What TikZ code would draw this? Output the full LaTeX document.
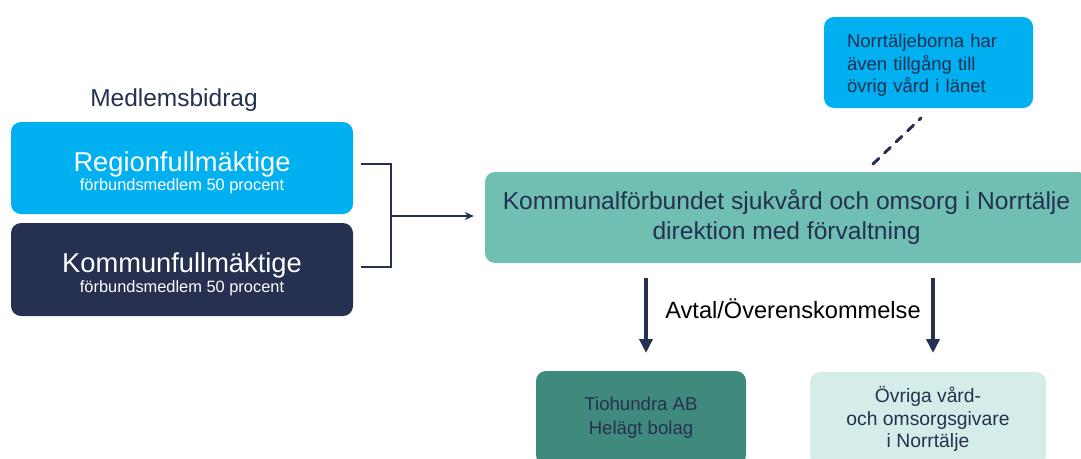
\documentclass[tikz,border=0pt]{standalone}
\usepackage{fontspec}
\setmainfont{Liberation Sans}
\usetikzlibrary{positioning,calc,arrows.meta}

\definecolor{lblue}{HTML}{00B0F0}
\definecolor{navy}{HTML}{263050}
\definecolor{teal}{HTML}{70BFB3}
\definecolor{dteal}{HTML}{3F8A7C}
\definecolor{pteal}{HTML}{D4EDE8}

\tikzset{
  box/.style={rounded corners=10pt, inner sep=0pt, align=center},
  link/.style={draw=navy, line width=1.8pt},
  downarrow/.style={draw=navy, line width=3.5pt, -{Triangle[width=13pt,length=14pt]}}
}

\begin{document}
\begin{tikzpicture}[x=1pt,y=-1pt]
    \useasboundingbox (0,0) rectangle (1081,458);
    \clip (0,0) rectangle (1081,458);

    % Members
    \node[text=navy, font=\fontsize{24.5}{28}\selectfont] (bidrag) at (174,100) {Medlemsbidrag};
    \node[box, fill=lblue, text=white, minimum width=342pt, minimum height=92pt] (region) at (182,168)
        {{\fontsize{27.3}{30}\selectfont\rule{0pt}{29pt}Regionfullmäktige}\\[1pt]{\fontsize{16.4}{19}\selectfont förbundsmedlem 50 procent}};
    \node[box, fill=navy, text=white, minimum width=342pt, minimum height=93pt] (kommun) at (182,269.5)
        {{\fontsize{27.3}{30}\selectfont\rule{0pt}{29pt}Kommunfullmäktige}\\[1pt]{\fontsize{16.4}{19}\selectfont förbundsmedlem 50 procent}};

    % Federation
    \node[box, fill=teal, text=navy, minimum width=603pt, minimum height=91pt,
          font=\fontsize{24.6}{30}\selectfont] (forbund) at (786.5,217.5)
        {Kommunalförbundet sjukvård och omsorg i Norrtälje\\direktion med förvaltning};
    \node[box, fill=lblue, text=navy, minimum width=209pt, minimum height=91pt, align=left,
          text width=163pt, font=\fontsize{18.5}{22.5}\selectfont] (lanet) at (928.5,62.5)
        {\rule{0pt}{19.5pt}Norrtäljeborna har\\även tillgång till\\övrig vård i länet};

    % Providers
    \node[box, fill=dteal, text=navy, minimum width=210pt, minimum height=94pt,
          font=\fontsize{18.6}{24}\selectfont] (tio) at (641,418)
        {Tiohundra AB\\Helägt bolag};
    \node[box, fill=pteal, text=navy, minimum width=236pt, minimum height=94pt,
          font=\fontsize{19.3}{22.5}\selectfont] (ovriga) at (928,419)
        {Övriga vård-\\och omsorgsgivare\\i Norrtälje};
    \node[font=\fontsize{23.6}{28}\selectfont] (avtal) at (793,309) {Avtal/Överenskommelse};

    % Bracket into the federation
    \coordinate (brtop) at (361,164);
    \coordinate (brbot) at (361,267);
    \coordinate (brmid) at (391,216);
    \draw[link] (brtop) -| (brmid) |- (brbot);
    \draw[link, -{Stealth[length=9pt,width=8pt]}] (brmid) -- ($(forbund.west)+(-11,-1.5)$);

    % Dashed link to the county care
    \coordinate (dashlo) at (873,164);
    \coordinate (dashhi) at (921,118);
    \draw[draw=navy, line width=3pt, line cap=round, dash pattern=on 8pt off 8pt] (dashlo) -- (dashhi);

    % Agreements
    \coordinate (a1) at (646,278);
    \coordinate (a2) at (933,278);
    \draw[downarrow] (a1) -- (646,353);
    \draw[downarrow] (a2) -- (933,353);
\end{tikzpicture}
\end{document}
